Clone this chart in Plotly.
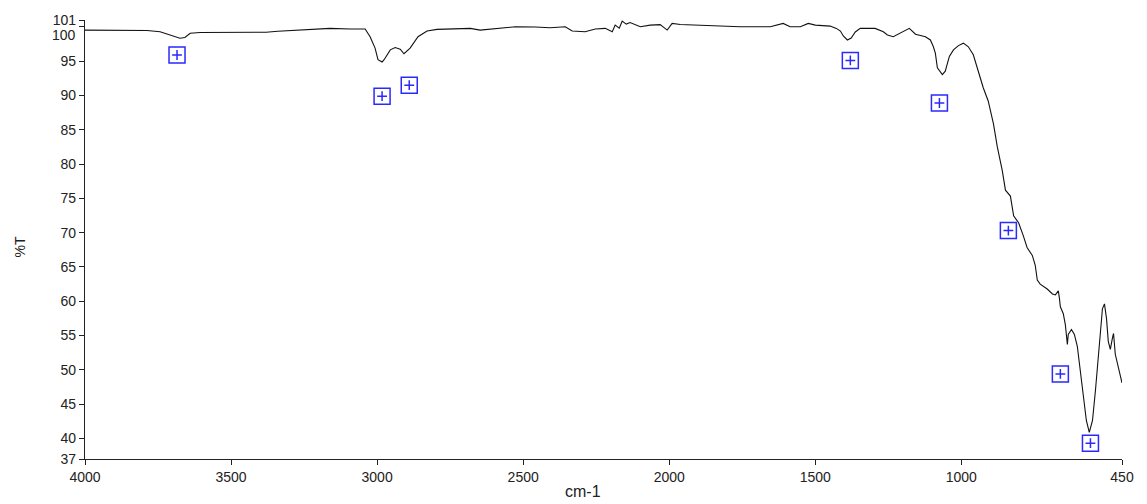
import plotly.graph_objects as go

# IR spectrum: wavenumber (cm-1) vs transmittance (%T)
wavenumber = [4000, 3900, 3840, 3788, 3743, 3702, 3675, 3658, 3640, 3606, 3500, 3425, 3380,
              3340, 3308, 3250, 3195, 3161, 3092,
              3041, 3024, 3007, 2997, 2983, 2976, 2955, 2938, 2921, 2908, 2887, 2860, 2829,
              2795, 2726, 2681, 2647, 2613, 2579, 2527, 2459, 2408, 2356, 2332, 2288, 2253,
              2219, 2195, 2185, 2171, 2161, 2147, 2134, 2099, 2065, 2031, 2007, 1990, 1962,
              1894, 1825, 1757, 1654, 1610, 1586, 1551, 1524, 1500, 1449, 1428, 1414, 1404,
              1390, 1377, 1363, 1346, 1312, 1295, 1267, 1253, 1233, 1209, 1178, 1157, 1123,
              1106, 1096, 1089, 1082, 1065, 1055, 1041, 1027, 1010, 993, 976, 959, 942, 925,
              908, 890, 877, 860, 849, 832, 821, 804, 788, 775, 757, 747, 740, 730, 706, 688,
              678, 668, 664, 661, 651, 644, 637, 634, 623, 613, 603, 592, 582, 572, 562, 551,
              541, 531, 524, 517, 510, 503, 497, 490, 483, 479, 473, 462, 450]
transmittance = [99.53, 99.50, 99.58, 99.46, 99.29, 98.67, 98.33, 98.45, 99.06, 99.17, 99.20,
                 99.14, 99.22, 99.35, 99.43, 99.55, 99.68,
                 99.78, 99.68, 99.68, 98.57, 96.90, 95.21, 94.88, 95.21, 96.65, 96.98, 96.75,
                 96.08, 96.90, 98.57, 99.39, 99.63, 99.68, 99.78, 99.53, 99.68, 99.87, 100.01,
                 99.97, 99.87, 100.01, 99.39, 99.29, 99.68, 99.78, 99.29, 100.25, 99.82, 100.83,
                 100.40, 100.62, 100.01, 100.25, 100.33, 99.53, 100.50, 100.35, 100.25, 100.15,
                 100.01, 100.01, 100.50, 100.01, 100.01, 100.50, 100.25, 100.11, 99.78, 99.39,
                 98.67, 98.09, 98.38, 99.25, 99.78, 99.78, 99.78, 99.29, 98.81, 98.57, 99.06,
                 99.78, 98.92, 98.57, 98.09, 97.13, 96.18, 94.02, 93.05, 93.53, 95.69, 96.65,
                 97.27, 97.62, 97.09, 95.93, 93.53, 91.13, 89.20, 85.85, 82.53, 79.07, 76.19,
                 75.33, 72.45, 71.44, 69.56, 67.84, 66.68, 65.24, 63.08, 62.50, 61.78, 61.06,
                 60.92, 61.50, 60.34, 59.19, 58.18, 56.60, 53.71, 55.16, 55.88, 55.16, 53.43,
                 49.39, 45.50, 42.62, 40.89, 42.62, 46.94, 51.70, 56.02, 58.90, 59.62, 57.46,
                 54.15, 52.99, 54.58, 55.30, 52.27, 50.26, 48.09]

# Peak-pick markers
peak_wn = [3685, 2983, 2890, 1380, 1075, 839, 661, 558]
peak_t = [95.9, 89.9, 91.5, 95.1, 88.9, 70.3, 49.4, 39.3]

y_ticks = [37, 40, 45, 50, 55, 60, 65, 70, 75, 80, 85, 90, 95, 100, 101]
x_ticks = [4000, 3500, 3000, 2500, 2000, 1500, 1000, 450]

W, H = 1147, 504
ML, MR, MT, MB = 85, 25, 15, 45
FONT = "Liberation Sans, Arial, sans-serif"
INK = "#222222"
BLUE = "#2a2aff"

fig = go.Figure()
fig.add_trace(go.Scatter(x=wavenumber, y=transmittance, mode="lines",
                         line=dict(color="#111111", width=1.1), hoverinfo="x+y"))
fig.add_trace(go.Scatter(x=peak_wn, y=peak_t, mode="markers",
                         marker=dict(symbol="square-open", size=16, color=BLUE,
                                     line=dict(width=1.5, color=BLUE))))
fig.add_trace(go.Scatter(x=peak_wn, y=peak_t, mode="markers",
                         marker=dict(symbol="cross-thin-open", size=7, color=BLUE,
                                     line=dict(width=1.5, color=BLUE))))

# the "100" label sits just below its tick so it clears "101"
y_text = ["" if v == 100 else str(v) for v in y_ticks]

axis_font = dict(family=FONT, size=14, color=INK)
fig.update_layout(
    width=W, height=H,
    margin=dict(l=ML, r=MR, t=MT, b=MB),
    plot_bgcolor="white", paper_bgcolor="white",
    showlegend=False,
    xaxis=dict(range=[4000, 450], tickvals=x_ticks, ticktext=[str(v) for v in x_ticks],
               showgrid=False, zeroline=False, showline=True, linecolor=INK,
               linewidth=1.3, ticks="outside", ticklen=5, tickcolor=INK,
               tickfont=axis_font),
    yaxis=dict(range=[37, 101], tickvals=y_ticks, ticktext=y_text,
               showgrid=False, zeroline=False, showline=True, linecolor=INK,
               linewidth=1.3, ticks="outside", ticklen=5, tickcolor=INK,
               tickfont=axis_font),
)


def px_to_paper(px, py):
    return (px - ML) / (W - ML - MR), 1 - (py - MT) / (H - MT - MB)


for text, px, py, size, angle, xanchor in [
    ("cm-1", 583, 492, 16, 0, "center"),
    ("%T", 20, 245, 14, -90, "center"),
    ("100", 78, 30, 14, 0, "right"),
]:
    ax, ay = px_to_paper(px, py)
    fig.add_annotation(text=text, x=ax, y=ay, xref="paper", yref="paper",
                       showarrow=False, textangle=angle, xanchor=xanchor,
                       yanchor="middle", font=dict(family=FONT, size=size, color=INK))

fig.write_html("out.html")
